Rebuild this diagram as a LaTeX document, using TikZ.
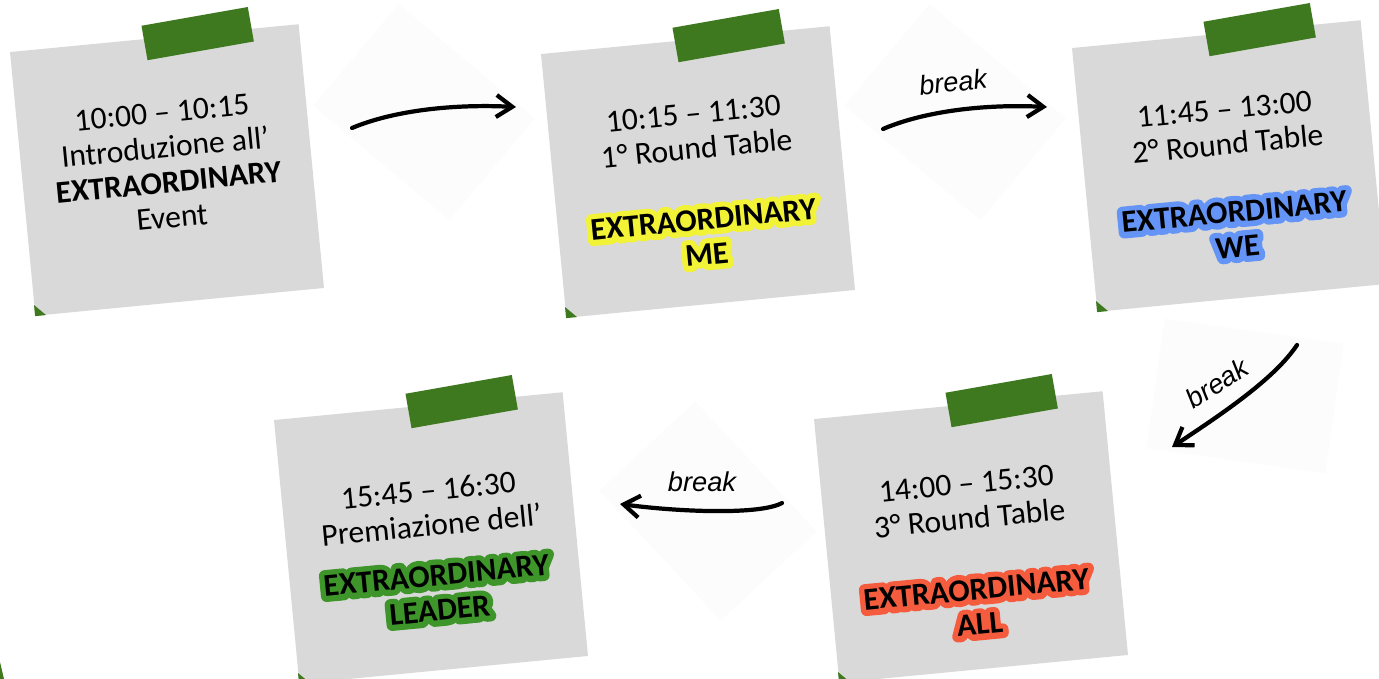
\documentclass[tikz,border=0pt]{standalone}
\usepackage{fontspec}
\setmainfont{Carlito}
\newfontfamily\breakfont{Liberation Sans}
\newfontfamily\glowfont{Carlito}[BoldFeatures={FakeBold=36}]
\usetikzlibrary{arrows.meta, positioning, calc}
\definecolor{NoteGray}{RGB}{217,217,217}
\definecolor{TapeGreen}{RGB}{63,121,31}
\definecolor{GhostGray}{RGB}{252,252,252}
\definecolor{HlYellow}{RGB}{242,242,55}
\definecolor{HlBlue}{RGB}{100,148,245}
\definecolor{HlRed}{RGB}{245,92,62}
\definecolor{HlGreen}{RGB}{62,150,42}
\newcommand{\glow}[2]{{\pgfsetroundjoin\ooalign{\hfil{\color{#1}\glowfont\bfseries #2}\hfil\cr\hfil\textbf{#2}\hfil\cr}}}

\begin{document}
\begin{tikzpicture}[x=0.02cm, y=-0.02cm,
        note/.style={rectangle, fill=NoteGray, minimum width=5.8cm, minimum height=5.3cm, inner sep=0pt, rotate=5.5},
        notetext/.style={rotate=5.5, align=center, inner sep=0pt, font=\fontsize{18}{20}\selectfont},
        tape/.style={rectangle, fill=TapeGreen, minimum width=2.16cm, minimum height=0.7cm, inner sep=0pt, rotate=10},
        ghost/.style={rectangle, fill=GhostGray, inner sep=0pt},
        brk/.style={font=\breakfont\itshape\fontsize{15.5}{18}\selectfont, inner sep=1pt},
        arrow/.style={-{Straight Barb[length=3.2mm, width=4.4mm]}, line width=2.4pt, line cap=round, line join=round}
    ]
        \useasboundingbox (0,0) rectangle (1379,679);
        % faint backdrops behind the arrows
        \node[ghost, minimum width=3.56cm, minimum height=2.66cm, rotate=-40] (g1) at (424,112) {};
        \node[ghost, minimum width=3.56cm, minimum height=2.66cm, rotate=-40] (g2) at (955,112) {};
        \node[ghost, minimum width=3.62cm, minimum height=2.62cm, rotate=-8] (g3) at (1245,396) {};
        \node[ghost, minimum width=3.56cm, minimum height=2.62cm, rotate=-47] (g4) at (708,511) {};
        % sticky notes
        \node[note] (n1) at (167,170) {};
        \node[note] (n2) at (698,172) {};
        \node[note] (n3) at (1229,166) {};
        \node[note] (n4) at (431,538) {};
        \node[note] (n5) at (971,537) {};
        % tape strips
        \node[tape] (t1) at ($(n1.north)!0.3!(n1.north east)$) {};
        \node[tape] (t2) at ($(n2.north)!0.3!(n2.north east)$) {};
        \node[tape] (t3) at ($(n3.north)!0.3!(n3.north east)$) {};
        \node[tape] (t4) at ($(n4.north)!0.3!(n4.north east)$) {};
        \node[tape] (t5) at ($(n5.north)!0.3!(n5.north east)$) {};
        % folded corners
        \fill[TapeGreen] (n1.south west) -- ($(n1.south west)!0.042!(n1.north west)$) -- ($(n1.south west)!0.038!(n1.south east)$) -- cycle;
        \fill[TapeGreen] (n2.south west) -- ($(n2.south west)!0.042!(n2.north west)$) -- ($(n2.south west)!0.038!(n2.south east)$) -- cycle;
        \fill[TapeGreen] (n3.south west) -- ($(n3.south west)!0.042!(n3.north west)$) -- ($(n3.south west)!0.038!(n3.south east)$) -- cycle;
        \fill[TapeGreen] (n4.south west) -- ($(n4.south west)!0.042!(n4.north west)$) -- ($(n4.south west)!0.038!(n4.south east)$) -- cycle;
        \fill[TapeGreen] (n5.south west) -- ($(n5.south west)!0.042!(n5.north west)$) -- ($(n5.south west)!0.038!(n5.south east)$) -- cycle;
        \fill[TapeGreen] (0,662) -- (4,679) -- (0,679) -- cycle;
        % note texts
        \node[notetext] (x1) at ($(n1.center)+(0,-5)$) {10:00 – 10:15\\Introduzione all’\\\textbf{EXTRAORDINARY}\\Event};
        \node[notetext] (x2) at ($(n2.center)+(2,12)$) {10:15 – 11:30\\1° Round Table\\[0.72cm]\glow{HlYellow}{EXTRAORDINARY}\\\glow{HlYellow}{ME}};
        \node[notetext] (x3) at ($(n3.center)+(2,12)$) {11:45 – 13:00\\2° Round Table\\[0.66cm]\glow{HlBlue}{EXTRAORDINARY}\\\glow{HlBlue}{WE}};
        \node[notetext] (x4) at ($(n4.center)+(3,12)$) {15:45 – 16:30\\Premiazione dell’\\[0.3cm]\glow{HlGreen}{EXTRAORDINARY}\\\glow{HlGreen}{LEADER}};
        \node[notetext] (x5) at ($(n5.center)+(2,17)$) {14:00 – 15:30\\3° Round Table\\[0.72cm]\glow{HlRed}{EXTRAORDINARY}\\\glow{HlRed}{ALL}};
        % arrows
        \coordinate (a1) at (352,128);
        \coordinate (b1) at (516,107);
        \coordinate (a2) at (883,129);
        \coordinate (b2) at (1047,107);
        \coordinate (a3) at (1297,345);
        \coordinate (b3) at (1172,447);
        \coordinate (a4) at (782,503);
        \coordinate (b4) at (620,504);
        \draw[arrow] (a1) .. controls (395,110) and (455,104) .. (b1);
        \draw[arrow] (a2) .. controls (925,111) and (985,104) .. (b2);
        \draw[arrow] (a3) .. controls (1275,378) and (1225,412) .. (b3);
        \draw[arrow] (a4) .. controls (760,515) and (680,512) .. (b4);
        \node[brk, rotate=7] (l2) at (953,82) {break};
        \node[brk, rotate=33] (l3) at (1217,383) {break};
        \node[brk] (l4) at (702,482) {break};
    \end{tikzpicture}
\end{document}
